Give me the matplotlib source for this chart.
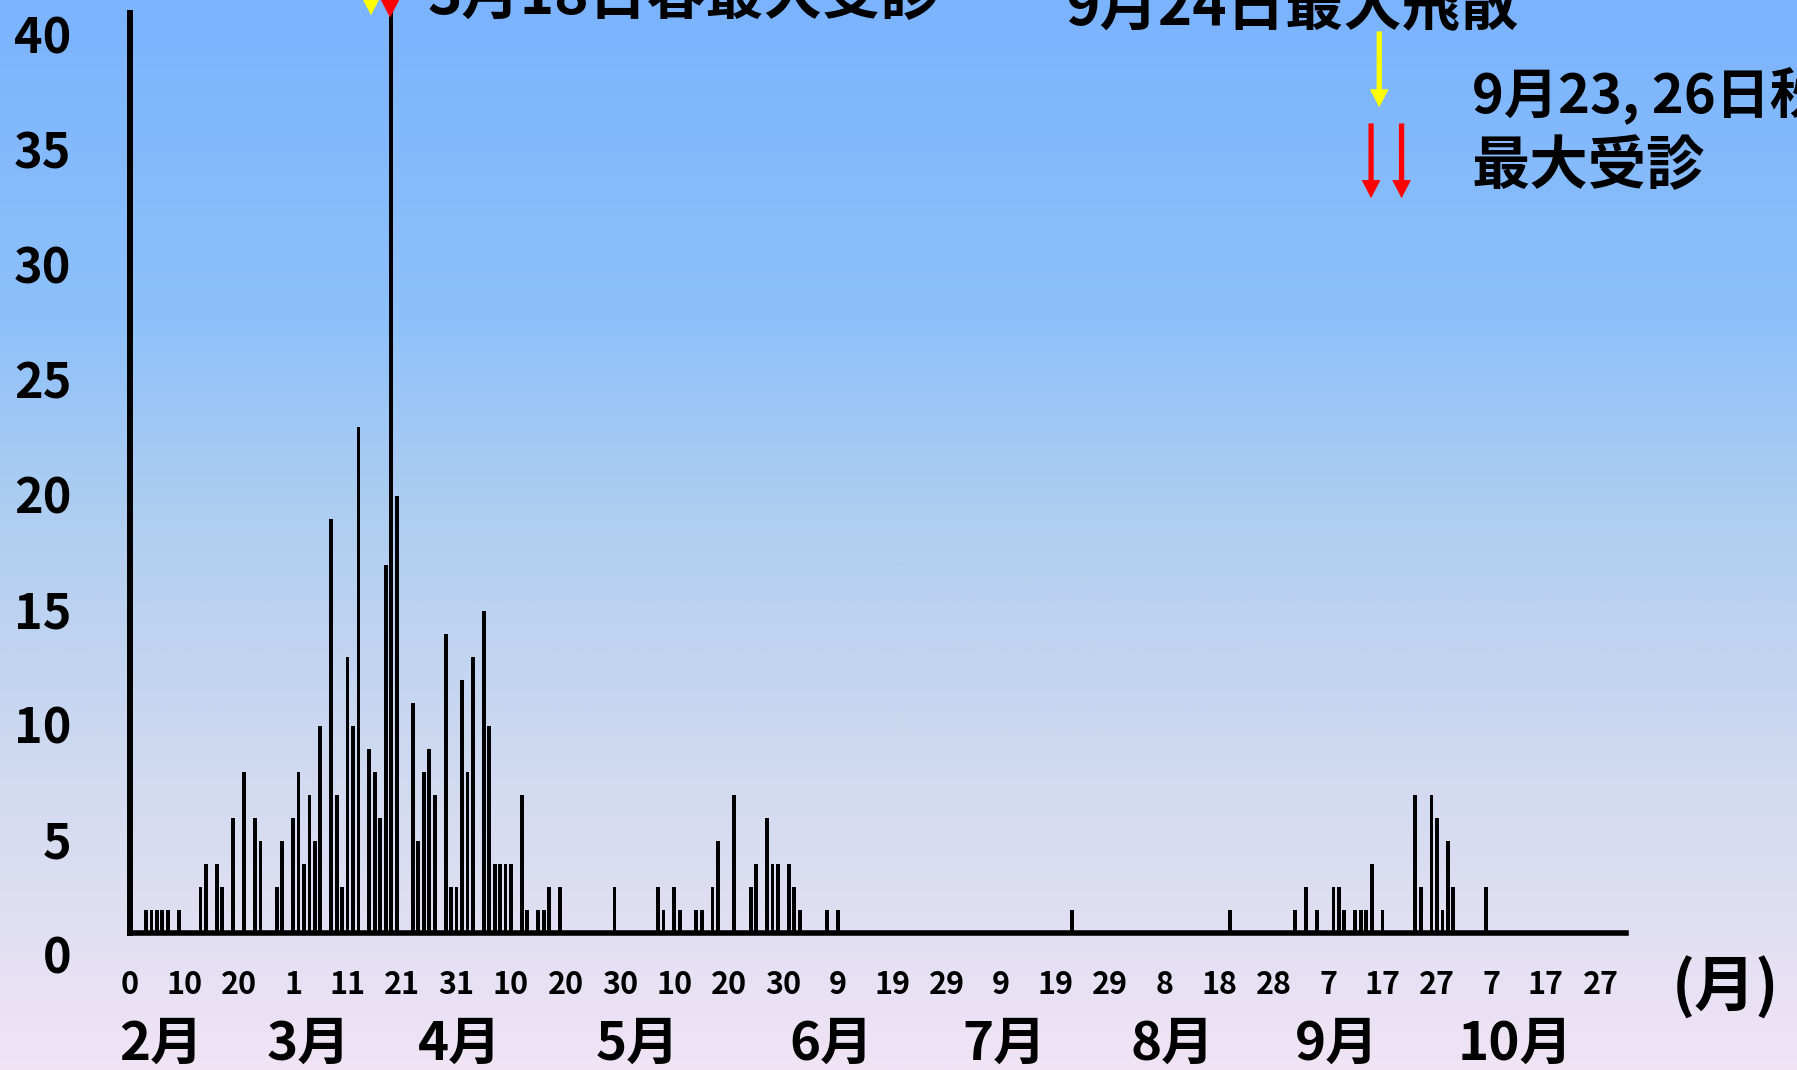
import numpy as np
import matplotlib
matplotlib.use("Agg")
import matplotlib.pyplot as plt
from matplotlib import transforms

plt.rcParams['font.family'] = ['Noto Sans CJK JP', 'DejaVu Sans']
plt.rcParams['font.weight'] = 'bold'

# =====================
# datos (día desde el 0 de febrero, número de pacientes)
# =====================

days = [3, 4, 5, 6, 7, 9,
        13, 14, 16, 17, 19, 21, 23, 24,
        27, 28, 30, 31, 32, 33, 34, 35,
        37, 38, 39, 40, 41, 42,
        44, 45, 46, 47, 48, 49,
        52, 53, 54, 55, 56,
        58, 59, 60, 61, 62, 63,
        65, 66, 67, 68, 69, 70,
        72, 73, 75, 76, 77, 79,
        89, 97, 98, 100, 101, 104, 105, 107, 108,
        111, 114, 115, 117, 118, 119, 121, 122, 123,
        128, 130, 173, 202,
        214, 216, 218, 221, 222, 223,
        225, 226, 227, 228, 230,
        236, 237, 239, 240, 241, 242, 243, 249]

counts = [1, 1, 1, 1, 1, 1,
          2, 3, 3, 2, 5, 7, 5, 4,
          2, 4, 5, 7, 3, 6, 4, 9,
          18, 6, 2, 12, 9, 22,
          8, 7, 5, 16, 42, 19,
          10, 4, 7, 8, 6,
          13, 2, 2, 11, 7, 12,
          14, 9, 3, 3, 3, 3,
          6, 1, 1, 1, 2, 2,
          2, 2, 1, 2, 1, 1, 1, 2, 4,
          6, 2, 3, 5, 3, 3, 3, 2, 1,
          1, 1, 1, 1,
          1, 2, 1, 2, 2, 1,
          1, 1, 1, 3, 1,
          6, 2, 6, 5, 1, 4, 2, 2]

day_labels = ["0", "10", "20", "1", "11", "21", "31", "10", "20", "30",
              "10", "20", "30", "9", "19", "29", "9", "19", "29", "8",
              "18", "28", "7", "17", "27", "7", "17", "27"]

months = ["2月", "3月", "4月", "5月", "6月", "7月", "8月", "9月", "10月"]
month_pos = [5.7, 32.8, 60.6, 93.3, 128.8, 160.5, 191.4, 221.6, 254.3]

yticks = [0, 5, 10, 15, 20, 25, 30, 35, 40]

# =====================
# figura
# =====================

W, H = 1797, 1070
fig = plt.figure(figsize=(W / 100, H / 100), dpi=100)

def fx(px):
    return px / W

def fy(py):
    return 1 - py / H

# fondo degradado
bg = fig.add_axes([0, 0, 1, 1], zorder=-1)
stops = np.array([0.0, 0.3, 0.5, 0.75, 1.0])
cols = np.array([
    [123, 179, 254],
    [142, 193, 250],
    [178, 207, 240],
    [212, 219, 240],
    [240, 228, 245],
]) / 255
yy = np.linspace(0, 1, 400)
grad = np.stack([np.interp(yy, stops, cols[:, i]) for i in range(3)], axis=1)
bg.imshow(grad[:, None, :], aspect='auto', extent=[0, 1, 0, 1])
bg.axis('off')

# ejes principales
x0_px, x1_px, y0_px = 129.7, 1626, 933
ax = fig.add_axes([fx(x0_px), 1 - y0_px / H, fx(x1_px) - fx(x0_px), y0_px / H])
ax.set_facecolor('none')

ax.bar(days, counts, width=0.7, color='black', linewidth=0)

ax.set_xlim(0.86, 274.7)
ax.set_ylim(0, y0_px / 23.0)

for s in ['top', 'right']:
    ax.spines[s].set_visible(False)
ax.spines['left'].set_linewidth(4.3)
ax.spines['left'].set_bounds(0, 40)
ax.spines['bottom'].set_linewidth(4.0)

ax.set_xticks(np.arange(0, 271, 10))
ax.set_xticklabels(day_labels, fontsize=22, fontweight='bold')
ax.tick_params(axis='x', length=0, pad=26)

ax.set_yticks(yticks)
ax.set_yticklabels([str(v) for v in yticks], fontsize=35, fontweight='bold')
ax.tick_params(axis='y', length=0, pad=42)
offset = transforms.ScaledTranslation(0, -0.21, fig.dpi_scale_trans)
for lab in ax.get_yticklabels():
    lab.set_transform(lab.get_transform() + offset)

# etiquetas de meses
trans = transforms.blended_transform_factory(ax.transData, fig.transFigure)
for m, p in zip(months, month_pos):
    ax.text(p, fy(1060), m, transform=trans, ha='center', va='baseline',
            fontsize=38, fontweight='bold')

fig.text(fx(1725), fy(988), "(月)", ha='center', va='center', fontsize=44, fontweight='bold')

# anotaciones
def arrow(x, ytip, ytop, color):
    ax.annotate('', xy=(x, ytip), xytext=(x, ytop), annotation_clip=False,
                arrowprops=dict(fc=color, ec='none', lw=0, width=3.8,
                                headwidth=13.5, headlength=13, shrink=0))

arrow(44.3, 39.9, 46, 'yellow')
arrow(47.8, 39.8, 46, 'red')
arrow(229.4, 35.9, 39.2, 'yellow')
arrow(227.9, 31.95, 35.2, 'red')
arrow(233.5, 31.95, 35.2, 'red')

note = dict(ha='left', va='baseline', fontweight='bold')
fig.text(fx(427), fy(14), "3月18日春最大受診", fontsize=42, **note)
fig.text(fx(1066), fy(26), "9月24日最大飛散", fontsize=42, **note)
fig.text(fx(1472), fy(112), "9月23, 26日秋", fontsize=39, **note)
fig.text(fx(1472), fy(184), "最大受診", fontsize=42, **note)

fig.savefig("out.png", dpi=100)
